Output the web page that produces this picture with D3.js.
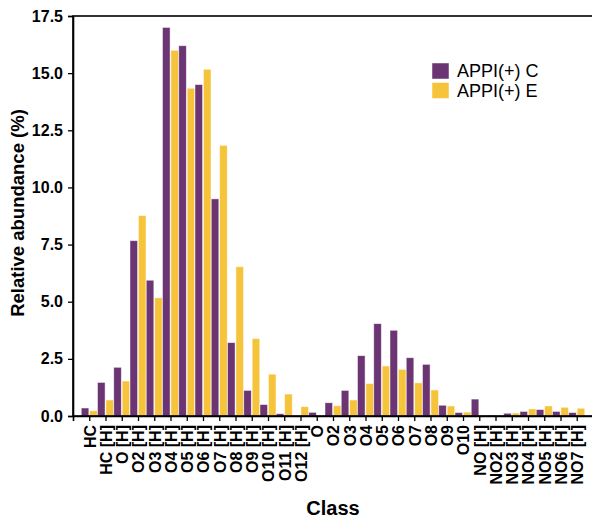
<!DOCTYPE html>
<html>
<head>
<meta charset="utf-8">
<script src="https://cdn.jsdelivr.net/npm/d3@7"></script>
<style>
  html, body { margin: 0; padding: 0; background: #fff; }
  svg { display: block; font-family: "Liberation Sans", Arial, Helvetica, sans-serif; }
</style>
</head>
<body>
<svg id="chart" width="592" height="522"></svg>
<script>
const categories = ["HC","HC [H]","O [H]","O2 [H]","O3 [H]","O4 [H]","O5 [H]","O6 [H]","O7 [H]","O8 [H]","O9 [H]","O10 [H]","O11 [H]","O12 [H]","O","O2","O3","O4","O5","O6","O7","O8","O9","O10","NO [H]","NO2 [H]","NO3 [H]","NO4 [H]","NO5 [H]","NO6 [H]","NO7 [H]"];
const seriesNames = ["APPI(+) C", "APPI(+) E"];
const appiC = [0.35,1.47,2.13,7.67,5.94,17.0,16.2,14.5,9.5,3.21,1.12,0.5,0.1,0,0.16,0.58,1.12,2.64,4.04,3.75,2.55,2.26,0.47,0.15,0.74,0.03,0.12,0.2,0.28,0.2,0.15];
const appiE = [0.23,0.70,1.53,8.77,5.17,16.0,14.34,15.17,11.84,6.53,3.39,1.83,0.96,0.41,0,0.45,0.70,1.42,2.19,2.04,1.45,1.14,0.44,0.17,0.04,0,0.13,0.31,0.44,0.38,0.34];
const yTicks = [0, 2.5, 5, 7.5, 10, 12.5, 15, 17.5];
const colors = ["#6b3473", "#f6c43b"];

(function () {
const svg = d3.select("#chart");
const mLeft = 73, mRight = 593, mTop = 16, mBottom = 416;

const x = d3.scalePoint().domain(categories).range([mLeft, mRight]).padding(1);
const xs = d3.scaleBand().domain(seriesNames).range([-8, 8]).paddingInner(0.1);
const y = d3.scaleLinear().domain([0, 17.5]).range([mBottom, mTop]);

const data = categories.map((c, i) => ({cat: c, vals: [appiC[i], appiE[i]]}));

// bars
const g = svg.append("g");
data.forEach(d => {
  d.vals.forEach((v, k) => {
    if (v <= 0) return;
    g.append("rect")
      .attr("x", x(d.cat) + xs(seriesNames[k]))
      .attr("width", xs.bandwidth())
      .attr("y", y(v))
      .attr("height", y(0) - y(v))
      .attr("fill", colors[k])
      .attr("stroke", "#ffffff")
      .attr("stroke-opacity", 0.6)
      .attr("stroke-width", 0.8);
  });
});

// frame
svg.append("rect")
  .attr("x", mLeft).attr("y", mTop)
  .attr("width", mRight - mLeft).attr("height", mBottom - mTop)
  .attr("fill", "none").attr("stroke", "#000").attr("stroke-width", 1.6);

// y axis
const yAxis = svg.append("g")
  .attr("transform", `translate(${mLeft},0)`)
  .call(d3.axisLeft(y).tickValues(yTicks).tickFormat(d3.format(".1f")).tickSize(5).tickPadding(5));
yAxis.select(".domain").attr("stroke-width", 1.6);
yAxis.selectAll(".tick line").attr("stroke-width", 1.3);
yAxis.selectAll("text").attr("font-size", 16).attr("font-weight", "bold")
  .attr("font-family", "'Liberation Sans', Arial, sans-serif").attr("fill", "#000");

// x axis
const xAxis = svg.append("g")
  .attr("transform", `translate(0,${mBottom})`)
  .call(d3.axisBottom(x).tickSize(5).tickPadding(4));
xAxis.select(".domain").attr("stroke-width", 1.6);
xAxis.selectAll(".tick line").attr("stroke-width", 1.3);
xAxis.selectAll("text")
  .attr("font-size", 16).attr("font-weight", "bold")
  .attr("font-family", "'Liberation Sans', Arial, sans-serif").attr("fill", "#000")
  .attr("text-anchor", "end")
  .attr("transform", "rotate(-90)")
  .attr("x", -9).attr("y", 0).attr("dy", "0.36em");

// axis titles
svg.append("text")
  .attr("x", 333).attr("y", 515)
  .attr("text-anchor", "middle")
  .attr("font-size", 20).attr("font-weight", "bold")
  .text("Class");

svg.append("text")
  .attr("transform", "translate(24,213) rotate(-90)")
  .attr("text-anchor", "middle")
  .attr("font-size", 18.5).attr("font-weight", "bold")
  .text("Relative abundance (%)");

// legend
const legend = svg.append("g").attr("transform", "translate(432,63)");
seriesNames.forEach((s, k) => {
  legend.append("rect")
    .attr("x", 0).attr("y", k * 19.5)
    .attr("width", 17).attr("height", 16)
    .attr("fill", colors[k])
    .attr("stroke", "#fff").attr("stroke-opacity", 0.6).attr("stroke-width", 0.8);
  legend.append("text")
    .attr("x", 25).attr("y", k * 19.5 + 8)
    .attr("dy", "0.36em")
    .attr("font-size", 18)
    .text(s);
});
})();
</script>
</body>
</html>
